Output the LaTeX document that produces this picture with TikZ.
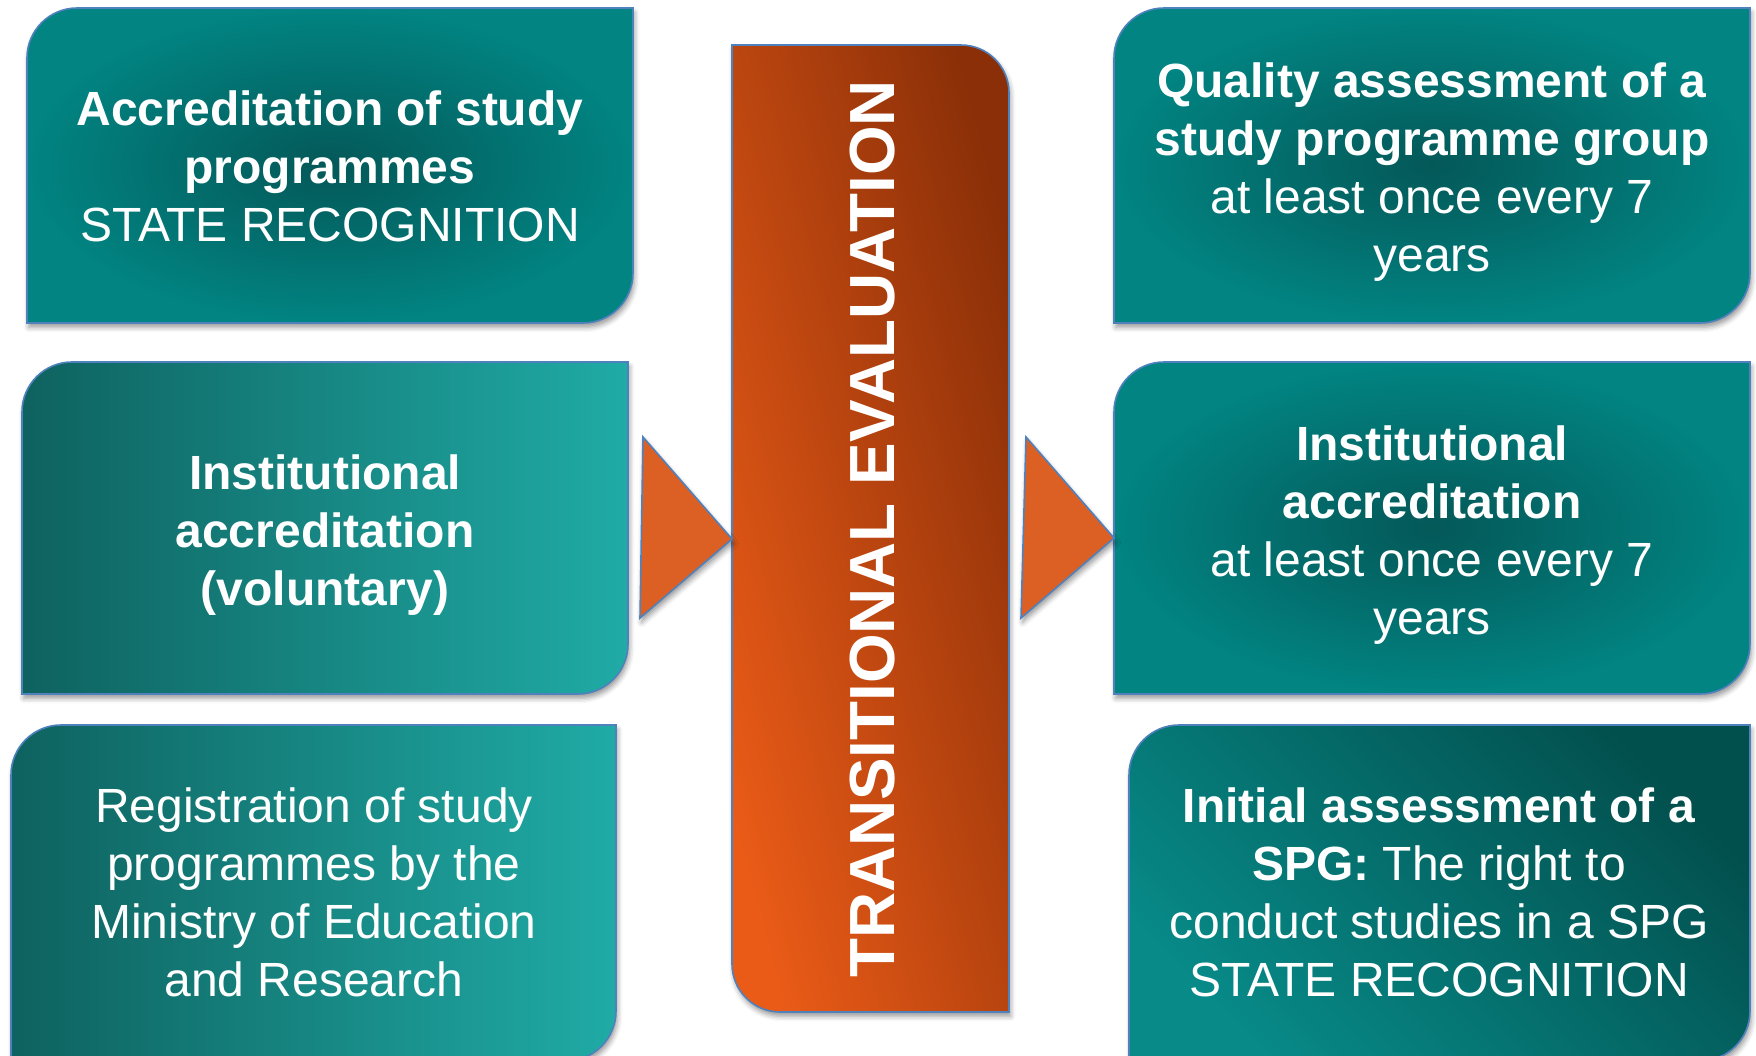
\documentclass[tikz,border=0pt]{standalone}
\usepackage{fontspec}
\setmainfont{Liberation Sans}
\usetikzlibrary{shadows.blur}
\definecolor{edgeblue}{HTML}{4F81BD}
\definecolor{tealOut}{HTML}{018482}
\definecolor{tealIn}{HTML}{045858}
\definecolor{tealDark}{HTML}{0E625F}
\definecolor{tealLight}{HTML}{20ABA6}
\definecolor{tealTR}{HTML}{02504E}
\definecolor{tealBL}{HTML}{078A88}
\definecolor{orangeLight}{HTML}{EA5B17}
\definecolor{orangeDark}{HTML}{8A2F08}
\definecolor{triorange}{HTML}{DC5F24}
\newcommand\tealpath[5]{(#1,#4) -- (#1,#2+#5) arc[start angle=180,end angle=270,radius=#5] -- (#3,#2) -- (#3,#4-#5) arc[start angle=0,end angle=90,radius=#5] -- cycle}
\tikzset{
  boxline/.style={draw=edgeblue, line width=0.8pt},
  shad/.style={blur shadow={shadow xshift=0.8pt, shadow yshift=-2.2pt, shadow blur radius=2.5pt, shadow opacity=40}},
  radialbox/.style={boxline, shad, inner color=tealIn, outer color=tealOut},
  linbox/.style={boxline, shad, left color=tealDark, right color=tealLight},
  diagbox/.style={boxline, shad, shading=axis, top color=tealTR, bottom color=tealBL, shading angle=-45},
  boxtext/.style={text=white, align=center, font=\fontsize{24}{29}\selectfont, inner sep=0pt},
  tri/.style={fill=triorange, draw=edgeblue, line width=0.8pt, line join=miter, shad},
}
\begin{document}
\begin{tikzpicture}[x=0.5pt,y=-0.5pt]
\useasboundingbox (0,0) rectangle (1756,1055);
\clip (0,0) rectangle (1756,1055);
% left boxes
\path[radialbox] \tealpath{27}{8}{633}{323}{50};
\node[boxtext] (tl) at (330,166) {\textbf{Accreditation of study}\\\textbf{programmes}\\STATE RECOGNITION};
\path[linbox] \tealpath{22}{362}{628}{694}{50};
\node[boxtext] (ml) at (325,535) {\textbf{Institutional}\\\textbf{accreditation}\\\textbf{(voluntary)}};
\path[linbox] \tealpath{11}{725}{616}{1061}{50};
\node[boxtext] (bl) at (314,892) {Registration of study\\programmes by the\\Ministry of Education\\and Research};
% central box
\path[boxline, shad, shading=axis, top color=orangeDark, bottom color=orangeLight, shading angle=-75]
  (732,45) -- (961,45) arc[start angle=270,end angle=360,radius=48] -- (1009,1012) -- (780,1012) arc[start angle=90,end angle=180,radius=48] -- cycle;
\node[text=white, rotate=90, font=\bfseries\fontsize{31.9}{38}\selectfont, inner sep=0pt] (ctr) at (873,529) {TRANSITIONAL EVALUATION};
\coordinate (ctrL) at (732,539);
\coordinate (mrL) at (1114,538);
% right boxes
\path[radialbox] \tealpath{1114}{8}{1750}{323}{50};
\node[boxtext] (tr) at (1432,172) {\textbf{Quality assessment of a}\\\textbf{study programme group}\\at least once every 7\\years};
\path[radialbox] \tealpath{1114}{362}{1750}{694}{50};
\node[boxtext] (mr) at (1432,535) {\textbf{Institutional}\\\textbf{accreditation}\\at least once every 7\\years};
\path[diagbox] \tealpath{1129}{725}{1750}{1061}{50};
\node[boxtext] (br) at (1439,892) {\textbf{Initial assessment of a}\\\textbf{SPG:} The right to\\conduct studies in a SPG\\STATE RECOGNITION};
% triangles
\coordinate (t1a) at (643,437);
\coordinate (t1b) at (640,618);
\coordinate (t2a) at (1026,437);
\coordinate (t2b) at (1021,618);
\draw[tri] (t1a) -- (ctrL) -- (t1b) -- cycle;
\draw[tri] (t2a) -- (mrL) -- (t2b) -- cycle;
\end{tikzpicture}
\end{document}
